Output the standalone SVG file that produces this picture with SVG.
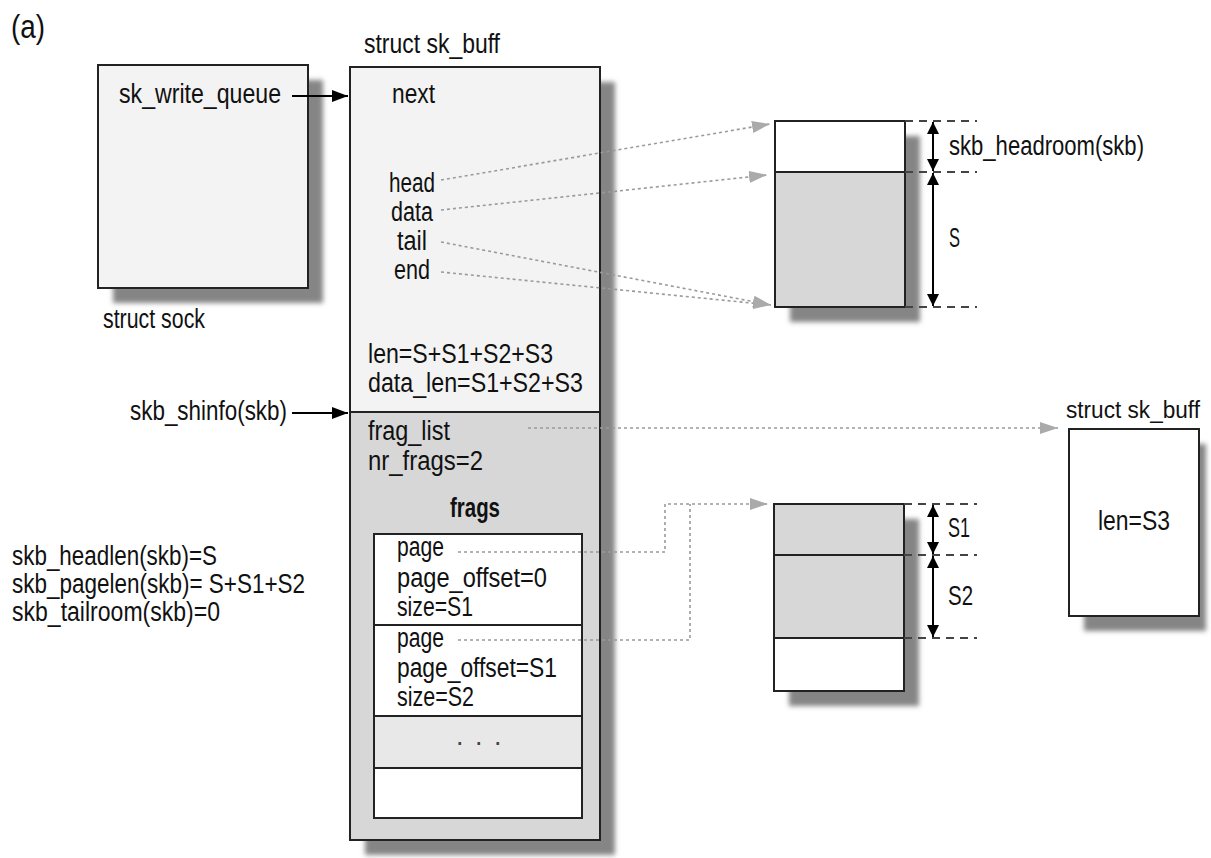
<svg xmlns="http://www.w3.org/2000/svg" width="1211" height="858" viewBox="0 0 1211 858">
<style>
text { font-family: "Liberation Sans", "Arial", sans-serif; font-size: 27px; fill: #111; }
.c { text-anchor: middle; }
.b { font-weight: bold; }
.box { stroke: #222; stroke-width: 2; }
.sep { stroke: #222; stroke-width: 2; fill: none; }
.shadow { fill: #858585; filter: url(#blur); }
.dot { fill: none; stroke: #9a9a9a; stroke-width: 1.6; stroke-dasharray: 3 3; }
.ext { fill: none; stroke: #444; stroke-width: 2; stroke-dasharray: 8 6; }
.dim { fill: none; stroke: #000; stroke-width: 2; marker-start: url(#blk2); marker-end: url(#blk2); }
.ptr { fill: none; stroke: #000; stroke-width: 2; marker-end: url(#blk); }
.g1 { fill: #f3f3f3; }
.g2 { fill: #d7d7d7; }
.g3 { fill: #e8e8e8; }
.w { fill: #fff; }
</style>
<defs>
<filter id="blur" x="-10%" y="-10%" width="120%" height="120%"><feGaussianBlur stdDeviation="2.5"/></filter>
<marker id="garr" markerUnits="userSpaceOnUse" markerWidth="18" markerHeight="12" viewBox="0 0 18 12" refX="18" refY="6" orient="auto"><path d="M0,0 L18,6 L0,12 z" fill="#aaa"/></marker>
<marker id="blk" markerUnits="userSpaceOnUse" markerWidth="16" markerHeight="12" viewBox="0 0 16 12" refX="16" refY="6" orient="auto"><path d="M0,0 L16,6 L0,12 z" fill="#000"/></marker>
<marker id="blk2" markerUnits="userSpaceOnUse" markerWidth="12" markerHeight="12" viewBox="0 0 12 12" refX="12" refY="6" orient="auto-start-reverse"><path d="M0,0 L12,6 L0,12 z" fill="#000"/></marker>
</defs>
<rect width="1211" height="858" fill="#fff"/>
<text x="11" y="38" style="font-size:34px" textLength="34" lengthAdjust="spacingAndGlyphs">(a)</text>

<g id="struct-sock">
<rect class="shadow" x="113" y="80" width="210" height="223"/>
<rect class="box g1" x="98" y="65" width="210" height="223"/>
<text x="119" y="103" textLength="162" lengthAdjust="spacingAndGlyphs">sk_write_queue</text>
<text x="103" y="328" textLength="102" lengthAdjust="spacingAndGlyphs">struct sock</text>
</g>

<g id="skb-main">
<text x="364" y="53" textLength="136" lengthAdjust="spacingAndGlyphs">struct sk_buff</text>
<rect class="shadow" x="365" y="82" width="250" height="773"/>
<rect class="g1" x="350" y="67" width="250" height="345"/>
<rect class="g2" x="350" y="412" width="250" height="428"/>
<rect class="box" x="350" y="67" width="250" height="773" fill="none"/>
<line class="sep" x1="350" y1="412" x2="600" y2="412"/>
<text x="392" y="103" textLength="43" lengthAdjust="spacingAndGlyphs">next</text>
<text class="c" x="412" y="192" textLength="46" lengthAdjust="spacingAndGlyphs">head</text>
<text class="c" x="412" y="221" textLength="42" lengthAdjust="spacingAndGlyphs">data</text>
<text class="c" x="412" y="250" textLength="30" lengthAdjust="spacingAndGlyphs">tail</text>
<text class="c" x="412" y="279" textLength="36" lengthAdjust="spacingAndGlyphs">end</text>
<text x="368" y="363" textLength="185" lengthAdjust="spacingAndGlyphs">len=S+S1+S2+S3</text>
<text x="368" y="392" textLength="215" lengthAdjust="spacingAndGlyphs">data_len=S1+S2+S3</text>
<text x="368" y="440" textLength="82" lengthAdjust="spacingAndGlyphs">frag_list</text>
<text x="368" y="470" textLength="115" lengthAdjust="spacingAndGlyphs">nr_frags=2</text>
<text class="c b" x="475" y="517" textLength="50" lengthAdjust="spacingAndGlyphs">frags</text>
</g>

<g id="frags-array">
<rect class="w" x="374" y="534" width="208" height="284"/>
<rect class="g3" x="374" y="716" width="208" height="52"/>
<rect class="box" x="374" y="534" width="208" height="284" fill="none"/>
<line class="sep" x1="374" y1="625" x2="582" y2="625"/>
<line class="sep" x1="374" y1="716" x2="582" y2="716"/>
<line class="sep" x1="374" y1="768" x2="582" y2="768"/>
<text x="397" y="556" textLength="47" lengthAdjust="spacingAndGlyphs">page</text>
<text x="397" y="587" textLength="150" lengthAdjust="spacingAndGlyphs">page_offset=0</text>
<text x="397" y="616" textLength="76" lengthAdjust="spacingAndGlyphs">size=S1</text>
<text x="397" y="647" textLength="47" lengthAdjust="spacingAndGlyphs">page</text>
<text x="397" y="677" textLength="160" lengthAdjust="spacingAndGlyphs">page_offset=S1</text>
<text x="397" y="706" textLength="77" lengthAdjust="spacingAndGlyphs">size=S2</text>
<text x="456 475 494" y="745" style="fill:#444">...</text>
</g>

<g id="head-buffer">
<rect class="shadow" x="790" y="136" width="130" height="186"/>
<rect class="w" x="775" y="121" width="130" height="51"/>
<rect class="g2" x="775" y="172" width="130" height="135"/>
<rect class="box" x="775" y="121" width="130" height="186" fill="none"/>
<line class="sep" x1="775" y1="172" x2="905" y2="172"/>
<path class="ext" d="M905,121 H977 M905,172 H977 M905,307 H977"/>
<line class="dim" x1="933" y1="122" x2="933" y2="171"/>
<line class="dim" x1="933" y1="173" x2="933" y2="306"/>
<text x="949" y="155" textLength="195" lengthAdjust="spacingAndGlyphs">skb_headroom(skb)</text>
<text x="949" y="247" textLength="11" lengthAdjust="spacingAndGlyphs">S</text>
</g>

<g id="page-buffer">
<rect class="shadow" x="789" y="519" width="130" height="187"/>
<rect class="g2" x="774" y="504" width="130" height="134"/>
<rect class="w" x="774" y="638" width="130" height="53"/>
<rect class="box" x="774" y="504" width="130" height="187" fill="none"/>
<line class="sep" x1="774" y1="555" x2="904" y2="555"/>
<line class="sep" x1="774" y1="638" x2="904" y2="638"/>
<path class="ext" d="M904,504 H977 M904,555 H977 M904,638 H977"/>
<line class="dim" x1="933" y1="505" x2="933" y2="554"/>
<line class="dim" x1="933" y1="556" x2="933" y2="637"/>
<text x="948" y="537" textLength="22" lengthAdjust="spacingAndGlyphs">S1</text>
<text x="948" y="605" textLength="25" lengthAdjust="spacingAndGlyphs">S2</text>
</g>

<g id="skb-next">
<text x="1066" y="418" style="font-size:23px" textLength="134" lengthAdjust="spacingAndGlyphs">struct sk_buff</text>
<rect class="shadow" x="1084" y="444" width="122" height="187"/>
<rect class="box w" x="1069" y="429" width="130" height="187"/>
<text class="c" x="1134" y="530" textLength="72" lengthAdjust="spacingAndGlyphs">len=S3</text>
</g>

<g id="labels">
<text x="130" y="420" textLength="157" lengthAdjust="spacingAndGlyphs">skb_shinfo(skb)</text>
<text x="12" y="565" textLength="205" lengthAdjust="spacingAndGlyphs">skb_headlen(skb)=S</text>
<text x="12" y="593" textLength="293" lengthAdjust="spacingAndGlyphs">skb_pagelen(skb)= S+S1+S2</text>
<text x="12" y="621" textLength="208" lengthAdjust="spacingAndGlyphs">skb_tailroom(skb)=0</text>
</g>

<g id="connectors">
<line class="ptr" x1="292" y1="96" x2="348" y2="96"/>
<line class="ptr" x1="292" y1="413" x2="348" y2="413"/>
<path class="dot" d="M441,180 L770,124" marker-end="url(#garr)"/>
<path class="dot" d="M441,210 L767,175" marker-end="url(#garr)"/>
<path class="dot" d="M441,242 L771,305" marker-end="url(#garr)"/>
<path class="dot" d="M441,272 L771,305" marker-end="url(#garr)"/>
<path class="dot" d="M528,428 L1058,428" marker-end="url(#garr)"/>
<path class="dot" d="M458,552 H665 V504 H768" marker-end="url(#garr)"/>
<path class="dot" d="M458,640 H690 V504"/>
</g>
</svg>
